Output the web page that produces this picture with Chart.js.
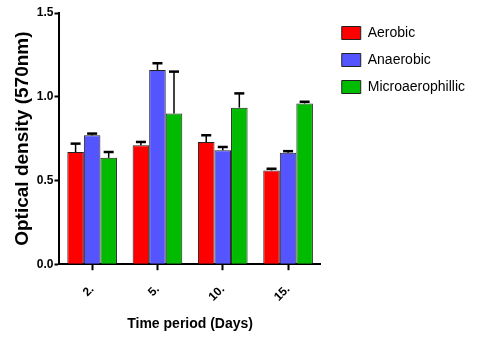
<!DOCTYPE html>
<html>
<head>
<meta charset="utf-8">
<script src="https://cdn.jsdelivr.net/npm/chart.js@4.4.1/dist/chart.umd.min.js"></script>
<style>
  html, body { margin: 0; padding: 0; background: #fff; }
  #wrap { width: 477px; height: 337px; }
</style>
</head>
<body>
<div id="wrap"><canvas id="chart"></canvas></div>
<script>
// Densité optique par période et condition d'aération
const days = ['2.', '5.', '10.', '15.'];
const aerobic = [0.67, 0.71, 0.73, 0.56];
const aerobicErr = [0.05, 0.02, 0.04, 0.01];
const anaerobic = [0.77, 1.16, 0.68, 0.665];
const anaerobicErr = [0.01, 0.04, 0.02, 0.01];
const micro = [0.635, 0.90, 0.935, 0.96];
const microErr = [0.035, 0.25, 0.085, 0.01];

const sans = "'Liberation Sans', Arial, sans-serif";
const GAP = 8; // espace en plus entre le graphe et la légende

// barres d'erreur (uniquement vers le haut)
const errorBars = {
  id: 'errorBars',
  afterDatasetsDraw(chart) {
    const ctx = chart.ctx;
    const y = chart.scales.y;
    chart.data.datasets.forEach((ds, i) => {
      const meta = chart.getDatasetMeta(i);
      meta.data.forEach((bar, j) => {
        const top = y.getPixelForValue(ds.data[j] + ds.err[j]);
        ctx.save();
        ctx.strokeStyle = '#000';
        ctx.lineWidth = 1.5;
        ctx.beginPath();
        ctx.moveTo(bar.x, bar.y);
        ctx.lineTo(bar.x, top);
        ctx.stroke();
        ctx.lineWidth = 2.5;
        ctx.beginPath();
        ctx.moveTo(bar.x - 5, top);
        ctx.lineTo(bar.x + 5, top);
        ctx.stroke();
        ctx.restore();
      });
    });
  }
};

// élargit la légende à gauche sans décaler ses items
const legendGap = {
  id: 'legendGap',
  beforeInit(chart) {
    const fit = chart.legend.fit;
    chart.legend.fit = function () {
      fit.bind(chart.legend)();
      this.width += GAP;
    };
  },
  afterLayout(chart) {
    chart.legend.left += GAP;
  }
};

new Chart(document.getElementById('chart'), {
  type: 'bar',
  data: {
    labels: days,
    datasets: [
      { label: 'Aerobic', data: aerobic, err: aerobicErr, backgroundColor: '#ff0000' },
      { label: 'Anaerobic', data: anaerobic, err: anaerobicErr, backgroundColor: '#5555ff' },
      { label: 'Microaerophillic', data: micro, err: microErr, backgroundColor: '#00bb00' }
    ]
  },
  options: {
    responsive: true,
    maintainAspectRatio: false,
    animation: false,
    datasets: { bar: { borderColor: '#222', borderWidth: 1, categoryPercentage: 0.76, barPercentage: 1.0 } },
    layout: { padding: { top: 13, bottom: 4, left: 11, right: 2 } },
    plugins: {
      tooltip: { enabled: false },
      legend: {
        position: 'right',
        align: 'start',
        maxWidth: 230,
        labels: {
          boxWidth: 19, boxHeight: 13, padding: 13,
          color: '#000',
          font: { family: sans, size: 14 }
        }
      }
    },
    scales: {
      x: {
        grid: { drawOnChartArea: false, offset: false, tickLength: 6, tickWidth: 2, color: '#000' },
        border: { color: '#000', width: 2 },
        ticks: {
          color: '#000', maxRotation: 45, minRotation: 45, padding: 12,
          font: { family: sans, size: 12, weight: 'bold' }
        },
        title: {
          display: true, text: 'Time period (Days)', color: '#000', padding: { top: 0, bottom: 0 },
          font: { family: sans, size: 14, weight: 'bold' }
        }
      },
      y: {
        min: 0, max: 1.5,
        grid: { drawOnChartArea: false, tickLength: 5, tickWidth: 2, color: '#000' },
        border: { color: '#000', width: 2 },
        ticks: {
          stepSize: 0.5, color: '#000', padding: 1,
          callback: v => v.toFixed(1),
          font: { family: sans, size: 12, weight: 'bold' }
        },
        title: {
          display: true, text: 'Optical density (570nm)', color: '#000', padding: { top: 0, bottom: 2 },
          font: { family: sans, size: 19, weight: 'bold' }
        }
      }
    }
  },
  plugins: [errorBars, legendGap]
});
</script>
</body>
</html>
